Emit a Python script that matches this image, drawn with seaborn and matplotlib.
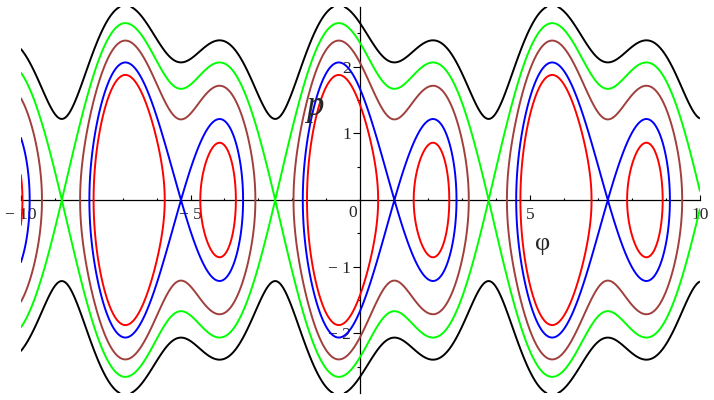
import numpy as np
import matplotlib
matplotlib.use("Agg")
import matplotlib.pyplot as plt
import seaborn as sns

# Hamiltonian H = p^2/2 + V(phi),  V(phi) = cos_coef*cos(phi) + sin2_coef*sin(2 phi)
cos_coef = -1.0
sin2_coef = 1.0
# energy levels of the drawn orbits (two of them are the separatrices)
levels = [0.0, 0.36901, 1.1, 1.76020, 2.5]
colors = ["#FF0000", "#0000FF", "#A0403C", "#00FF00", "#000000"]

x_range = [-10, 10]
y_range = [-2.9, 2.9]
x_major = [-10, -5, 5, 10]
x_labels = ["\u2212 10", "\u2212 5", "5", "10"]
y_major = [-2, -1, 1, 2]
y_labels = ["\u2212 2", "\u2212 1", "1", "2"]

sns.set_theme(style="white")
plt.rcParams["font.family"] = ["Liberation Serif", "DejaVu Serif"]
plt.rcParams["axes.unicode_minus"] = True

fig = plt.figure(figsize=(7.14, 4.0), dpi=100)
ax = fig.add_axes([20.7 / 714, 1 - 393.3 / 400, (700 - 20.7) / 714, (393.3 - 6.7) / 400])
ax.set_facecolor("white")

phi = np.linspace(x_range[0], x_range[1], 2401)
p = np.linspace(y_range[0], y_range[1], 1401)
PHI, P = np.meshgrid(phi, p)
H = P ** 2 / 2 + cos_coef * np.cos(PHI) + sin2_coef * np.sin(2 * PHI)
ax.contour(PHI, P, H, levels=levels, colors=colors, linewidths=1.4, zorder=3)

ax.set_xlim(*x_range)
ax.set_ylim(*y_range)

for s in ["top", "right"]:
    ax.spines[s].set_visible(False)
ax.spines["left"].set_position(("data", 0))
ax.spines["bottom"].set_position(("data", 0))
for s in ["left", "bottom"]:
    ax.spines[s].set_color("black")
    ax.spines[s].set_linewidth(0.9)
    ax.spines[s].set_zorder(2)

ax.set_xticks(x_major)
ax.set_xticklabels(x_labels)
ax.set_xticks(np.arange(-10, 11, 1), minor=True)
ax.set_yticks(y_major)
ax.set_yticklabels(y_labels)
ax.set_yticks(np.arange(-2.5, 2.6, 0.5), minor=True)

ax.tick_params(axis="x", which="major", direction="in", length=3.4, width=0.8,
               color="black", labelsize=12.5, pad=5, bottom=True)
ax.tick_params(axis="x", which="minor", direction="in", length=1.7, width=0.8,
               color="black", bottom=True)
ax.tick_params(axis="y", which="major", direction="out", length=4.8, width=0.8,
               color="black", labelsize=12.5, pad=2, left=True)
ax.tick_params(axis="y", which="minor", direction="out", length=2.4, width=0.8,
               color="black", left=True)
ax.grid(False)

ax.text(-0.215, -0.195, "0", fontsize=12.5, ha="center", va="center")
ax.text(-1.33, 1.40, "p", fontsize=25, style="italic", ha="center", va="center")
ax.text(5.37, -0.667, "\u03c6", fontsize=19, ha="center", va="center")

fig.savefig("out.png", dpi=100)
